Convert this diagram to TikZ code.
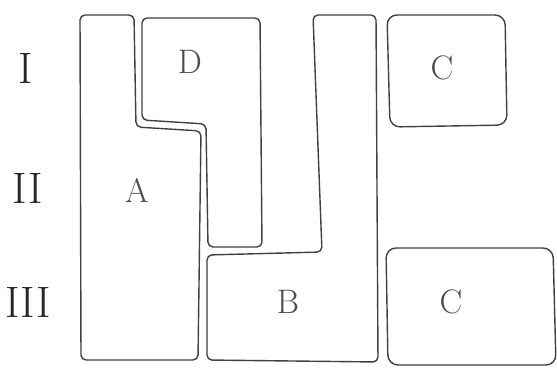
\documentclass[tikz,border=0pt]{standalone}
\begin{document}
\begin{tikzpicture}[x=1pt,y=-1pt,
  region/.style={draw=black!75, line width=1.4pt, rounded corners=5pt, line join=round},
  numeral/.style={font=\fontsize{44}{44}\selectfont, text=black!85, inner sep=0pt},
  lbl/.style={font=\fontsize{34}{34}\selectfont, text=black!70, inner sep=0pt}]
\useasboundingbox (0,0) rectangle (557,367);
% regions
\draw[region] (80,15) -- (134,15) -- (136,127) -- (201,131) -- (198,360) -- (81,360) -- cycle;
\draw[region] (142,18) -- (260,18) -- (262,247) -- (208,247) -- (206,124) -- (142,120) -- cycle;
\draw[region] (313,15) -- (376,15) -- (378,362) -- (207,360) -- (207,255) -- (322,252) -- cycle;
\draw[region, rounded corners=10pt] (387,15) -- (505,15) -- (507,125) -- (390,127) -- cycle;
\draw[region, rounded corners=10pt] (386,248) -- (553,248) -- (556,365) -- (388,365) -- cycle;
% row numerals
\node[numeral] (r1) at (26,68) {I};
\node[numeral] (r2) at (28,188) {II};
\node[numeral] (r3) at (28,302) {III};
% region labels
\node[lbl] (la) at (137,190) {A};
\node[lbl] (ld) at (190,62) {D};
\node[lbl] (lb) at (288,302) {B};
\node[lbl] (lc1) at (442,68) {C};
\node[lbl] (lc2) at (451,302) {C};
\end{tikzpicture}
\end{document}
